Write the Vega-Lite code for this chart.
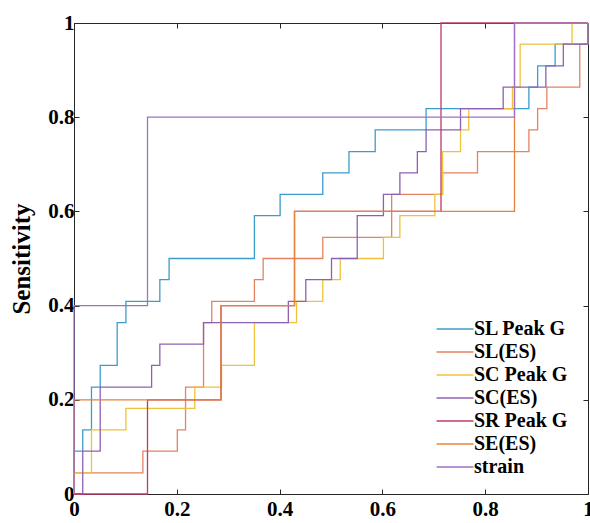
{
  "$schema": "https://vega.github.io/schema/vega-lite/v6.json",
  "width": 514,
  "height": 471,
  "autosize": {"type": "none"},
  "padding": {"left": 74, "top": 23, "right": 2, "bottom": 29},
  "background": "white",
  "config": {
    "view": {"stroke": "#262626", "strokeWidth": 1},
    "font": "Liberation Serif"
  },
  "data": {"values": [
    {"s":"SL Peak G","i":0,"x":0,"y":0},
    {"s":"SL Peak G","i":1,"x":0,"y":0.091},
    {"s":"SL Peak G","i":2,"x":0.017,"y":0.136},
    {"s":"SL Peak G","i":3,"x":0.034,"y":0.227},
    {"s":"SL Peak G","i":4,"x":0.051,"y":0.273},
    {"s":"SL Peak G","i":5,"x":0.084,"y":0.364},
    {"s":"SL Peak G","i":6,"x":0.101,"y":0.409},
    {"s":"SL Peak G","i":7,"x":0.167,"y":0.455},
    {"s":"SL Peak G","i":8,"x":0.185,"y":0.5},
    {"s":"SL Peak G","i":9,"x":0.351,"y":0.591},
    {"s":"SL Peak G","i":10,"x":0.401,"y":0.636},
    {"s":"SL Peak G","i":11,"x":0.484,"y":0.682},
    {"s":"SL Peak G","i":12,"x":0.535,"y":0.727},
    {"s":"SL Peak G","i":13,"x":0.586,"y":0.773},
    {"s":"SL Peak G","i":14,"x":0.685,"y":0.818},
    {"s":"SL Peak G","i":15,"x":0.885,"y":0.864},
    {"s":"SL Peak G","i":16,"x":0.902,"y":0.909},
    {"s":"SL Peak G","i":17,"x":0.936,"y":0.955},
    {"s":"SL Peak G","i":18,"x":1,"y":1},

    {"s":"SL(ES)","i":0,"x":0,"y":0},
    {"s":"SL(ES)","i":1,"x":0,"y":0.045},
    {"s":"SL(ES)","i":2,"x":0.134,"y":0.091},
    {"s":"SL(ES)","i":3,"x":0.201,"y":0.136},
    {"s":"SL(ES)","i":4,"x":0.217,"y":0.227},
    {"s":"SL(ES)","i":5,"x":0.252,"y":0.364},
    {"s":"SL(ES)","i":6,"x":0.268,"y":0.409},
    {"s":"SL(ES)","i":7,"x":0.351,"y":0.455},
    {"s":"SL(ES)","i":8,"x":0.368,"y":0.5},
    {"s":"SL(ES)","i":9,"x":0.484,"y":0.545},
    {"s":"SL(ES)","i":10,"x":0.618,"y":0.636},
    {"s":"SL(ES)","i":11,"x":0.717,"y":0.682},
    {"s":"SL(ES)","i":12,"x":0.785,"y":0.727},
    {"s":"SL(ES)","i":13,"x":0.885,"y":0.773},
    {"s":"SL(ES)","i":14,"x":0.902,"y":0.818},
    {"s":"SL(ES)","i":15,"x":0.92,"y":0.864},
    {"s":"SL(ES)","i":16,"x":0.984,"y":0.955},
    {"s":"SL(ES)","i":17,"x":1,"y":1},

    {"s":"SC Peak G","i":0,"x":0,"y":0},
    {"s":"SC Peak G","i":1,"x":0,"y":0.045},
    {"s":"SC Peak G","i":2,"x":0.034,"y":0.136},
    {"s":"SC Peak G","i":3,"x":0.101,"y":0.182},
    {"s":"SC Peak G","i":4,"x":0.235,"y":0.227},
    {"s":"SC Peak G","i":5,"x":0.287,"y":0.273},
    {"s":"SC Peak G","i":6,"x":0.351,"y":0.364},
    {"s":"SC Peak G","i":7,"x":0.433,"y":0.409},
    {"s":"SC Peak G","i":8,"x":0.484,"y":0.455},
    {"s":"SC Peak G","i":9,"x":0.518,"y":0.5},
    {"s":"SC Peak G","i":10,"x":0.602,"y":0.545},
    {"s":"SC Peak G","i":11,"x":0.634,"y":0.591},
    {"s":"SC Peak G","i":12,"x":0.702,"y":0.636},
    {"s":"SC Peak G","i":13,"x":0.717,"y":0.727},
    {"s":"SC Peak G","i":14,"x":0.752,"y":0.773},
    {"s":"SC Peak G","i":15,"x":0.768,"y":0.818},
    {"s":"SC Peak G","i":16,"x":0.853,"y":0.864},
    {"s":"SC Peak G","i":17,"x":0.868,"y":0.955},
    {"s":"SC Peak G","i":18,"x":0.969,"y":1},
    {"s":"SC Peak G","i":19,"x":1,"y":1},

    {"s":"SC(ES)","i":0,"x":0,"y":0},
    {"s":"SC(ES)","i":1,"x":0.017,"y":0.091},
    {"s":"SC(ES)","i":2,"x":0.051,"y":0.227},
    {"s":"SC(ES)","i":3,"x":0.151,"y":0.273},
    {"s":"SC(ES)","i":4,"x":0.167,"y":0.318},
    {"s":"SC(ES)","i":5,"x":0.252,"y":0.364},
    {"s":"SC(ES)","i":6,"x":0.417,"y":0.409},
    {"s":"SC(ES)","i":7,"x":0.451,"y":0.455},
    {"s":"SC(ES)","i":8,"x":0.501,"y":0.5},
    {"s":"SC(ES)","i":9,"x":0.551,"y":0.591},
    {"s":"SC(ES)","i":10,"x":0.602,"y":0.636},
    {"s":"SC(ES)","i":11,"x":0.634,"y":0.682},
    {"s":"SC(ES)","i":12,"x":0.668,"y":0.727},
    {"s":"SC(ES)","i":13,"x":0.685,"y":0.773},
    {"s":"SC(ES)","i":14,"x":0.752,"y":0.818},
    {"s":"SC(ES)","i":15,"x":0.835,"y":0.864},
    {"s":"SC(ES)","i":16,"x":0.918,"y":0.909},
    {"s":"SC(ES)","i":17,"x":0.952,"y":0.955},
    {"s":"SC(ES)","i":18,"x":1,"y":1},

    {"s":"SR Peak G","i":0,"x":0,"y":0},
    {"s":"SR Peak G","i":1,"x":0.143,"y":0.2},
    {"s":"SR Peak G","i":2,"x":0.286,"y":0.4},
    {"s":"SR Peak G","i":3,"x":0.429,"y":0.6},
    {"s":"SR Peak G","i":4,"x":0.714,"y":1},
    {"s":"SR Peak G","i":5,"x":1,"y":1},

    {"s":"SE(ES)","i":0,"x":0,"y":0},
    {"s":"SE(ES)","i":1,"x":0,"y":0.2},
    {"s":"SE(ES)","i":2,"x":0.286,"y":0.4},
    {"s":"SE(ES)","i":3,"x":0.429,"y":0.6},
    {"s":"SE(ES)","i":4,"x":0.857,"y":1},
    {"s":"SE(ES)","i":5,"x":1,"y":1},

    {"s":"strain","i":0,"x":0,"y":0},
    {"s":"strain","i":1,"x":0,"y":0.4},
    {"s":"strain","i":2,"x":0.143,"y":0.8},
    {"s":"strain","i":3,"x":0.857,"y":1},
    {"s":"strain","i":4,"x":1,"y":1}
  ]},
  "layer": [
    {
      "encoding": {
        "x": {"field": "x", "type": "quantitative",
          "scale": {"domain": [0, 1], "nice": false, "zero": false},
          "axis": {"orient": "bottom", "values": [0, 0.2, 0.4, 0.6, 0.8, 1], "format": "~g", "title": null,
            "grid": false, "domain": false, "tickSize": -5, "tickColor": "#262626",
            "labelFont": "Liberation Serif", "labelFontWeight": "bold", "labelFontSize": 21,
            "labelColor": "black", "labelPadding": 9, "labelFlush": false, "labelOverlap": false}},
        "y": {"field": "y", "type": "quantitative",
          "scale": {"domain": [0, 1], "nice": false, "zero": false},
          "axis": {"orient": "left", "values": [0, 0.2, 0.4, 0.6, 0.8, 1], "format": "~g", "title": "Sensitivity",
            "grid": false, "domain": false, "tickSize": -5, "tickColor": "#262626",
            "labelFont": "Liberation Serif", "labelFontWeight": "bold", "labelFontSize": 21,
            "labelColor": "black", "labelPadding": 5, "labelFlush": false, "labelOverlap": false,
            "titleFont": "Liberation Serif", "titleFontWeight": "bold", "titleFontSize": 25,
            "titleColor": "black", "titlePadding": 13}},
        "color": {"field": "s", "type": "nominal",
          "scale": {"domain": ["SL Peak G", "SL(ES)", "SC Peak G", "SC(ES)", "SR Peak G", "SE(ES)", "strain"],
            "range": ["#3c9ccc", "#e48262", "#f0c23a", "#9060b0", "#c03a66", "#e8823a", "#a070c8"]},
          "legend": {"title": null, "orient": "none", "legendX": 371, "legendY": 296,
            "symbolType": "M-2,0H2", "symbolSize": 340, "symbolStrokeWidth": 1.4,
            "labelFont": "Liberation Serif", "labelFontWeight": "bold", "labelFontSize": 20,
            "labelColor": "black", "labelOffset": 9, "rowPadding": 3, "labelLimit": 300}},
        "order": {"field": "i", "type": "quantitative"}
      },
      "layer": [
        {"transform": [{"filter": "datum.s == 'SL Peak G'"}],
         "mark": {"type": "line", "interpolate": "step-after", "strokeWidth": 1.3, "clip": false}},
        {"transform": [{"filter": "datum.s == 'SL(ES)'"}],
         "mark": {"type": "line", "interpolate": "step-after", "strokeWidth": 1.3, "clip": false}},
        {"transform": [{"filter": "datum.s == 'SC Peak G'"}],
         "mark": {"type": "line", "interpolate": "step-after", "strokeWidth": 1.3, "clip": false}},
        {"transform": [{"filter": "datum.s == 'SC(ES)'"}],
         "mark": {"type": "line", "interpolate": "step-after", "strokeWidth": 1.3, "clip": false}},
        {"transform": [{"filter": "datum.s == 'SR Peak G'"}],
         "mark": {"type": "line", "interpolate": "step-after", "strokeWidth": 1.3, "clip": false}},
        {"transform": [{"filter": "datum.s == 'SE(ES)'"}],
         "mark": {"type": "line", "interpolate": "step-after", "strokeWidth": 1.3, "clip": false}},
        {"transform": [{"filter": "datum.s == 'strain'"}],
         "mark": {"type": "line", "interpolate": "step-after", "strokeWidth": 1.3, "clip": false}}
      ]
    },
    {
      "mark": {"type": "line", "opacity": 0},
      "encoding": {
        "x": {"field": "x", "type": "quantitative",
          "axis": {"orient": "top", "values": [0, 0.2, 0.4, 0.6, 0.8, 1], "title": null,
            "labels": false, "grid": false, "domain": false, "tickSize": -5, "tickColor": "#262626"}},
        "y": {"field": "y", "type": "quantitative",
          "axis": {"orient": "right", "values": [0, 0.2, 0.4, 0.6, 0.8, 1], "title": null,
            "labels": false, "grid": false, "domain": false, "tickSize": -5, "tickColor": "#262626"}}
      }
    }
  ],
  "resolve": {"axis": {"x": "independent", "y": "independent"}}
}
